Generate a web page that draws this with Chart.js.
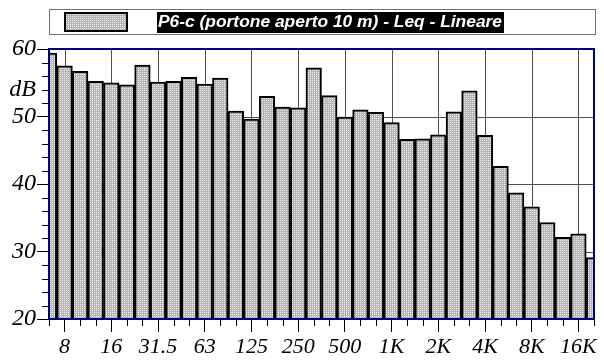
<!DOCTYPE html>
<html>
<head>
<meta charset="utf-8">
<script src="https://cdn.jsdelivr.net/npm/chart.js@4"></script>
<style>
  body { margin: 0; background: #fff; }
  canvas { display: block; }
</style>
</head>
<body>
<canvas id="myChart" width="604" height="360"></canvas>
<script>
// 1/3 octave bands, 6.3 Hz .. 20 kHz
var bands = ['6.3', '8', '10', '12.5', '16', '20', '25', '31.5', '40', '50', '63', '80',
  '100', '125', '160', '200', '250', '315', '400', '500', '630', '800', '1K', '1.25K',
  '1.6K', '2K', '2.5K', '3.15K', '4K', '5K', '6.3K', '8K', '10K', '12.5K', '16K', '20K'];
var levels = [59.4, 57.5, 56.7, 55.2, 55.0, 54.7, 57.6, 55.1, 55.2, 55.8, 54.8, 55.7,
  50.8, 49.6, 53.0, 51.4, 51.3, 57.2, 53.1, 49.9, 51.0, 50.6, 49.1, 46.6,
  46.7, 47.3, 50.7, 53.8, 47.2, 42.6, 38.7, 36.6, 34.3, 32.1, 32.6, 29.1];
var xTickLabels = ['8', '16', '31.5', '63', '125', '250', '500', '1K', '2K', '4K', '8K', '16K'];
var yTickLabels = [20, 30, 40, 50, 60];
var unitLabel = 'dB';
var seriesName = 'P6-c (portone aperto 10 m) - Leq - Lineare';

var navy = '#000080';
var gridCol = '#505050';
var clear = 'rgba(0,0,0,0)';
var serif = '"Liberation Serif", "Times New Roman", serif';

var canvas = document.getElementById('myChart');
var ctx = canvas.getContext('2d');

// dotted grey fill
var pc = document.createElement('canvas');
pc.width = 2; pc.height = 2;
var pctx = pc.getContext('2d');
pctx.fillStyle = '#b4b4b4';
pctx.fillRect(0, 0, 2, 2);
pctx.fillStyle = '#f2f2f2';
pctx.fillRect(0, 0, 1, 1);
var dots = ctx.createPattern(pc, 'repeat');

function isLabeled(i) {
  return xTickLabels.indexOf(bands[i]) !== -1;
}

var framePlugin = {
  id: 'frame',
  beforeDraw: function (chart) {
    var c = chart.ctx;
    c.save();
    // legend box
    c.fillStyle = '#fff';
    c.fillRect(49, 9, 547, 26);
    c.strokeStyle = '#707070';
    c.lineWidth = 1;
    c.strokeRect(49.5, 9.5, 546, 25);
    // swatch
    c.fillStyle = dots;
    c.fillRect(64, 12, 64, 20);
    c.strokeStyle = '#000';
    c.lineWidth = 2;
    c.strokeRect(65, 13, 62, 18);
    // label on black
    c.font = 'bold italic 17.4px "Liberation Sans", Arial, sans-serif';
    var w = c.measureText(seriesName).width;
    c.fillStyle = '#000';
    c.fillRect(157, 12, w + 3, 21);
    c.fillStyle = '#fff';
    c.textBaseline = 'middle';
    c.fillText(seriesName, 158, 22.5);
    c.restore();
  },
  beforeDatasetsDraw: function (chart) {
    var c = chart.ctx;
    var a = chart.chartArea;
    var x = chart.scales.x;
    var y = chart.scales.y;
    c.save();
    c.strokeStyle = gridCol;
    c.lineWidth = 1;
    c.beginPath();
    x.ticks.forEach(function (t, i) {
      if (!isLabeled(i)) return;
      var px = Math.round(x.getPixelForTick(i)) + 0.5;
      c.moveTo(px, a.top);
      c.lineTo(px, a.bottom);
    });
    y.ticks.forEach(function (t, i) {
      if (t.value % 10 !== 0) return;
      var py = Math.round(y.getPixelForTick(i)) + 0.5;
      c.moveTo(a.left, py);
      c.lineTo(a.right, py);
    });
    c.stroke();
    c.restore();
  },
  afterDatasetsDraw: function (chart) {
    var c = chart.ctx;
    var a = chart.chartArea;
    var x = chart.scales.x;
    var y = chart.scales.y;
    c.save();
    c.strokeStyle = '#000';
    c.lineWidth = 1;
    // minor ticks
    c.beginPath();
    x.ticks.forEach(function (t, i) {
      if (isLabeled(i)) return;
      var px = Math.round(x.getPixelForTick(i)) + 0.5;
      c.moveTo(px, a.bottom);
      c.lineTo(px, a.bottom + 7);
    });
    y.ticks.forEach(function (t, i) {
      if (t.value % 10 === 0) return;
      var py = Math.round(y.getPixelForTick(i)) + 0.5;
      c.moveTo(a.left - 7, py);
      c.lineTo(a.left, py);
    });
    c.stroke();
    // plot frame
    c.strokeStyle = navy;
    c.lineWidth = 2;
    c.strokeRect(a.left, a.top, a.right - a.left, a.bottom - a.top);
    c.restore();
  }
};

var chart = new Chart(ctx, {
  type: 'bar',
  data: {
    labels: bands,
    datasets: [
      {
        label: seriesName,
        data: levels,
        backgroundColor: dots,
        borderColor: '#000',
        borderWidth: 2,
        barPercentage: 1,
        categoryPercentage: 1,
        clip: 0,
      },
    ],
  },
  plugins: [framePlugin],
  options: {
    responsive: false,
    animation: false,
    devicePixelRatio: 1,
    layout: {
      padding: { top: 49, right: 10, left: 0, bottom: 0 },
    },
    plugins: {
      legend: { display: false },
      tooltip: { enabled: false },
    },
    scales: {
      x: {
        offset: false,
        afterFit: function (scale) { scale.height = 41; },
        border: { display: false },
        grid: {
          offset: false,
          drawOnChartArea: false,
          tickLength: 13,
          tickColor: function (c) { return isLabeled(c.index) ? '#000' : clear; },
        },
        ticks: {
          autoSkip: false,
          maxRotation: 0,
          minRotation: 0,
          padding: 2,
          color: '#000',
          font: { family: serif, style: 'italic', size: 22 },
          callback: function (v, i) { return isLabeled(i) ? bands[i] : ''; },
        },
      },
      y: {
        min: 20,
        max: 60,
        afterFit: function (scale) { scale.width = 49; },
        border: { display: false },
        grid: {
          drawOnChartArea: false,
          tickLength: 12,
          tickColor: function (c) { return c.tick.value % 10 === 0 ? '#000' : clear; },
        },
        ticks: {
          stepSize: 2,
          maxTicksLimit: 30,
          autoSkip: false,
          padding: 1,
          color: '#000',
          font: { family: serif, style: 'italic', size: 24 },
          callback: function (v) {
            if (yTickLabels.indexOf(v) !== -1) return String(v);
            if (v === 54) return unitLabel;
            return '';
          },
        },
      },
    },
  },
});
</script>
</body>
</html>
